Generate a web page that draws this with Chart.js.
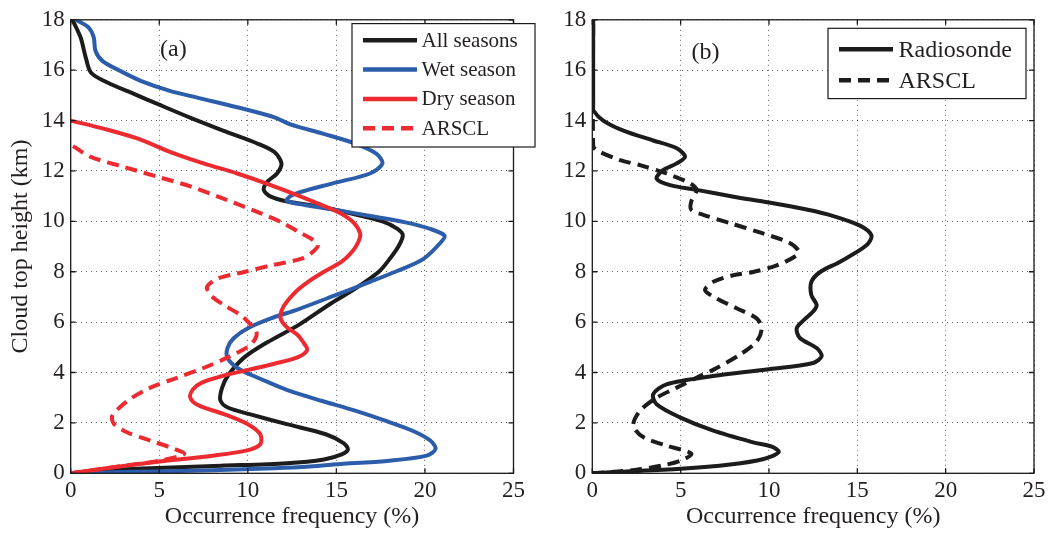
<!DOCTYPE html>
<html>
<head>
<meta charset="utf-8">
<script src="https://cdn.jsdelivr.net/npm/chart.js@4.4.0/dist/chart.umd.min.js"></script>
<style>
  html, body { margin: 0; padding: 0; background: #fff; }
  #wrap { position: relative; width: 1050px; height: 535px; }
  canvas { position: absolute; top: 0; }
  #panelA { left: 0; }
  #panelB { left: 545px; }
</style>
</head>
<body>
<div id="wrap">
  <canvas id="panelA" width="545" height="535"></canvas>
  <canvas id="panelB" width="505" height="535"></canvas>
</div>
<script>
// (a) cloud top height (km) vs occurrence frequency (%)
var allHeight = [0, 0.1, 0.2, 0.3, 0.4, 0.55, 0.75, 0.95, 1.2, 1.55, 1.95, 2.35, 2.6, 2.9, 3.4, 3.9, 4.6, 5.2, 5.9, 6.7, 7.3, 8.0, 8.5, 9.0, 9.45, 9.7, 10.0, 10.35, 10.6, 10.78, 10.98, 11.25, 11.57, 11.9, 12.3, 12.75, 13.1, 13.6, 14.1, 14.6, 15.05, 15.5, 15.9, 16.5, 17.3, 18];
var allFreq = [0, 1.5, 4.5, 8.5, 12.2, 14.3, 15.3, 15.65, 15.4, 14.4, 12.2, 10.1, 8.9, 8.45, 8.55, 8.9, 9.8, 11.1, 12.9, 14.6, 16.0, 17.4, 18.0, 18.5, 18.75, 18.45, 17.6, 15.6, 14.0, 12.3, 11.3, 10.9, 11.1, 11.65, 11.9, 11.5, 10.5, 8.6, 6.8, 5.1, 3.6, 2.1, 1.15, 0.85, 0.56, 0.1];

var wetHeight = [0, 0.05, 0.12, 0.2, 0.27, 0.38, 0.5, 0.7, 0.97, 1.3, 1.69, 2.08, 2.48, 2.87, 3.26, 3.6, 3.9, 4.18, 4.58, 4.97, 5.36, 5.76, 6.15, 6.5, 7.03, 7.6, 8.02, 8.5, 9.17, 9.44, 9.7, 9.96, 10.2, 10.45, 10.65, 10.82, 11.0, 11.15, 11.51, 11.9, 12.3, 12.69, 13.08, 13.48, 13.85, 14.13, 14.53, 14.92, 15.18, 15.58, 15.97, 16.36, 16.76, 17.3, 17.7, 18];
var wetFreq = [0, 3, 8, 11.5, 13.5, 15.4, 18.0, 20.1, 20.6, 20.3, 19.3, 17.8, 16.1, 14.2, 12.4, 11.2, 10.2, 9.4, 8.85, 8.85, 9.2, 10.0, 11.3, 12.8, 14.8, 16.9, 18.4, 19.9, 20.9, 21.1, 20.3, 18.9, 17.0, 15.0, 13.2, 12.2, 12.4, 12.9, 14.8, 16.9, 17.6, 17.25, 16.1, 14.24, 12.4, 11.5, 9.4, 7.1, 5.6, 3.95, 2.8, 1.8, 1.4, 1.3, 1.0, 0.3];

var dryHeight = [0, 0.2, 0.45, 0.7, 0.9, 1.15, 1.55, 1.95, 2.35, 2.7, 3.0, 3.33, 3.6, 3.85, 4.1, 4.35, 4.6, 4.9, 5.23, 5.5, 5.8, 6.15, 6.6, 7.2, 7.6, 8.0, 8.4, 8.8, 9.2, 9.5, 9.93, 10.33, 10.72, 10.98, 11.44, 11.9, 12.3, 12.76, 13.28, 13.67, 14.0];
var dryFreq = [0, 2.0, 4.8, 8.0, 9.9, 10.7, 10.7, 10.0, 8.65, 7.2, 6.75, 6.9, 7.4, 8.5, 10.0, 11.5, 12.8, 13.35, 13.1, 12.8, 12.2, 11.85, 12.0, 12.7, 13.4, 14.3, 15.3, 15.9, 16.25, 16.35, 16.0, 15.2, 13.9, 13.0, 11.3, 9.4, 7.5, 5.6, 3.8, 1.9, 0];

var arsclDryHeight = [0, 0.25, 0.5, 0.77, 1.03, 1.3, 1.62, 1.95, 2.28, 2.87, 3.4, 3.79, 4.18, 4.58, 5.1, 5.56, 6.02, 6.28, 6.68, 7.07, 7.4, 7.73, 7.99, 8.25, 8.51, 8.75, 9.05, 9.3, 9.57, 9.93, 10.33, 10.85, 11.38, 11.77, 12.16, 12.56, 13.0];
var arsclDryFreq = [0, 2.5, 5.0, 6.4, 5.6, 4.5, 3.2, 2.45, 2.35, 3.2, 4.5, 6.0, 7.5, 8.8, 10.15, 10.5, 10.0, 9.6, 8.65, 7.9, 7.7, 8.3, 9.8, 11.3, 13.0, 13.6, 13.96, 13.6, 12.9, 12.0, 10.7, 8.8, 6.8, 4.9, 3.0, 1.13, 0.1];

// (b) radiosonde vs ARSCL
var sondeHeight = [0, 0.05, 0.18, 0.35, 0.57, 0.84, 1.05, 1.23, 1.69, 2.22, 2.74, 3.14, 3.53, 3.86, 4.12, 4.38, 4.65, 4.97, 5.37, 5.76, 6.1, 6.42, 6.68, 7.07, 7.6, 7.99, 8.39, 9.04, 9.44, 9.83, 10.22, 10.46, 10.75, 10.98, 11.25, 11.44, 11.7, 12.03, 12.3, 12.56, 12.9, 13.21, 13.6, 14.0, 14.4, 14.6, 18];
var sondeFreq = [0, 1.2, 5.0, 7.8, 9.7, 10.55, 10.2, 9.1, 6.85, 4.96, 3.64, 3.45, 4.2, 6.85, 9.87, 12.5, 12.98, 12.7, 11.75, 11.57, 12.0, 12.5, 12.7, 12.4, 12.4, 12.9, 14.0, 15.5, 15.8, 15.15, 13.6, 12.2, 10.0, 8.0, 5.9, 4.4, 3.64, 4.0, 4.78, 5.25, 4.78, 3.45, 1.76, 0.62, 0.06, 0.05, 0.05];

var arsclHeight = [0, 0.14, 0.3, 0.5, 0.78, 1.1, 1.43, 1.89, 2.48, 3.0, 3.4, 3.79, 4.18, 4.71, 5.23, 5.76, 6.15, 6.55, 6.94, 7.27, 7.6, 7.86, 7.99, 8.25, 8.65, 8.85, 9.17, 9.6, 9.93, 10.26, 10.46, 10.79, 11.25, 11.51, 11.9, 12.23, 12.43, 12.82, 13.0, 18];
var arsclFreq = [0, 2.5, 3.9, 5.0, 5.6, 4.2, 2.9, 2.32, 2.7, 3.64, 4.78, 5.9, 7.04, 8.36, 9.3, 9.59, 9.3, 8.17, 7.04, 6.38, 6.85, 7.98, 9.1, 10.44, 11.57, 11.66, 11.1, 9.3, 7.8, 6.28, 5.6, 5.6, 5.9, 5.53, 4.2, 2.7, 1.57, 0.25, 0.05, 0.05];

var freqTicks = [0, 5, 10, 15, 20, 25];
var heightTicks = [0, 2, 4, 6, 8, 10, 12, 14, 16, 18];

var BLACK = "#1c1c1c";
var BLUE = "#2b5dab";
var RED = "#ec2a30";
var DASH = [12, 7];
var SERIF = "'Liberation Serif', 'Times New Roman', serif";

Chart.defaults.font.family = SERIF;
Chart.defaults.color = "#231f20";

function profile(heights, freqs) {
  return heights.map(function (h, i) {
    return { x: freqs[i], y: h };
  });
}

function curve(label, heights, freqs, color, dashed, order) {
  return {
    label: label,
    data: profile(heights, freqs),
    showLine: true,
    borderColor: color,
    backgroundColor: color,
    borderWidth: 4,
    borderDash: dashed ? DASH : [],
    borderCapStyle: "butt",
    pointRadius: 0,
    tension: 0.3,
    fill: false,
    order: order,
  };
}

// box round the axes with inward tick marks on all four sides
var frame = {
  id: "frame",
  afterDraw: function (chart) {
    var ctx = chart.ctx;
    var a = chart.chartArea;
    var xs = chart.scales.x;
    var ys = chart.scales.y;
    ctx.save();
    ctx.strokeStyle = "#1a1a1a";
    ctx.lineWidth = 1.3;
    ctx.strokeRect(a.left, a.top, a.right - a.left, a.bottom - a.top);
    ctx.beginPath();
    freqTicks.forEach(function (v) {
      var px = xs.getPixelForValue(v);
      ctx.moveTo(px, a.bottom);
      ctx.lineTo(px, a.bottom - 5);
      ctx.moveTo(px, a.top);
      ctx.lineTo(px, a.top + 5);
    });
    heightTicks.forEach(function (v) {
      var py = ys.getPixelForValue(v);
      ctx.moveTo(a.left, py);
      ctx.lineTo(a.left + 5, py);
      ctx.moveTo(a.right, py);
      ctx.lineTo(a.right - 5, py);
    });
    ctx.stroke();
    ctx.restore();
  },
};

// panel letter and boxed legend, drawn on top of the curves
function panelDecor(letter, letterAt, legend) {
  return {
    id: "decor",
    afterDraw: function (chart) {
      var ctx = chart.ctx;
      var a = chart.chartArea;
      var xs = chart.scales.x;
      var ys = chart.scales.y;
      ctx.save();
      ctx.fillStyle = "#231f20";
      ctx.font = "24px " + SERIF;
      ctx.textAlign = "center";
      ctx.textBaseline = "middle";
      ctx.fillText(letter, xs.getPixelForValue(letterAt[0]), ys.getPixelForValue(letterAt[1]));

      var bx = a.right + legend.offsetRight - legend.width;
      var by = a.top + legend.offsetTop;
      ctx.fillStyle = "#fff";
      ctx.fillRect(bx, by, legend.width, legend.height);
      ctx.strokeStyle = "#1a1a1a";
      ctx.lineWidth = 1.2;
      ctx.strokeRect(bx, by, legend.width, legend.height);

      ctx.font = legend.fontSize + "px " + SERIF;
      ctx.textAlign = "left";
      chart.data.datasets.forEach(function (ds, i) {
        var ry = by + legend.firstRow + i * legend.rowGap;
        ctx.beginPath();
        ctx.setLineDash(ds.borderDash);
        ctx.strokeStyle = ds.borderColor;
        ctx.lineWidth = 4.5;
        ctx.moveTo(bx + 11, ry);
        ctx.lineTo(bx + 65, ry);
        ctx.stroke();
        ctx.setLineDash([]);
        ctx.fillStyle = "#231f20";
        ctx.fillText(ds.label, bx + legend.textX, ry + 1);
      });
      ctx.restore();
    },
  };
}

function axes(yWidth, showTitle) {
  return {
    x: {
      type: "linear",
      min: 0,
      max: 25,
      afterBuildTicks: function (s) {
        s.ticks = freqTicks.map(function (v) { return { value: v }; });
      },
      afterFit: function (s) { s.height = 61.7; },
      grid: { color: "rgba(0,0,0,0.6)", lineWidth: 1, drawTicks: false },
      border: { display: false, dash: [1, 4] },
      ticks: { padding: 4, font: { size: 23 }, color: "#231f20" },
      title: {
        display: true,
        text: "Occurrence frequency (%)",
        font: { size: 24 },
        color: "#231f20",
        padding: { top: 0, bottom: 4 },
      },
    },
    y: {
      type: "linear",
      min: 0,
      max: 18,
      afterBuildTicks: function (s) {
        s.ticks = heightTicks.map(function (v) { return { value: v }; });
      },
      afterFit: function (s) { s.width = yWidth; },
      grid: { color: "rgba(0,0,0,0.6)", lineWidth: 1, drawTicks: false },
      border: { display: false, dash: [1, 4] },
      ticks: { padding: 6, font: { size: 23 }, color: "#231f20" },
      title: {
        display: showTitle,
        text: "Cloud top height (km)",
        font: { size: 24 },
        color: "#231f20",
        padding: { top: 6, bottom: 0 },
      },
    },
  };
}

new Chart(document.getElementById("panelA"), {
  type: "scatter",
  data: {
    datasets: [
      curve("All seasons", allHeight, allFreq, BLACK, false, 4),
      curve("Wet season", wetHeight, wetFreq, BLUE, false, 3),
      curve("Dry season", dryHeight, dryFreq, RED, false, 2),
      curve("ARSCL", arsclDryHeight, arsclDryFreq, RED, true, 1),
    ],
  },
  options: {
    responsive: false,
    animation: false,
    layout: { padding: { left: 0, top: 15.5, right: 31.5, bottom: 0 } },
    plugins: { legend: { display: false }, tooltip: { enabled: false } },
    scales: axes(70.7, true),
  },
  plugins: [frame, panelDecor("(a)", [5.8, 16.8], {
    width: 183, height: 123.4, offsetRight: 21.5, offsetTop: 3.8,
    firstRow: 16.7, rowGap: 29.3, textX: 69.5, fontSize: 21,
  })],
});

new Chart(document.getElementById("panelB"), {
  type: "scatter",
  data: {
    datasets: [
      curve("Radiosonde", sondeHeight, sondeFreq, BLACK, false, 2),
      curve("ARSCL", arsclHeight, arsclFreq, BLACK, true, 1),
    ],
  },
  options: {
    responsive: false,
    animation: false,
    layout: { padding: { left: 0, top: 15.5, right: 16, bottom: 0 } },
    plugins: { legend: { display: false }, tooltip: { enabled: false } },
    scales: axes(47.3, false),
  },
  plugins: [frame, panelDecor("(b)", [6.4, 16.7], {
    width: 198, height: 70.3, offsetRight: -8, offsetTop: 8.5,
    firstRow: 21, rowGap: 31, textX: 70.5, fontSize: 24,
  })],
});
</script>
</body>
</html>
